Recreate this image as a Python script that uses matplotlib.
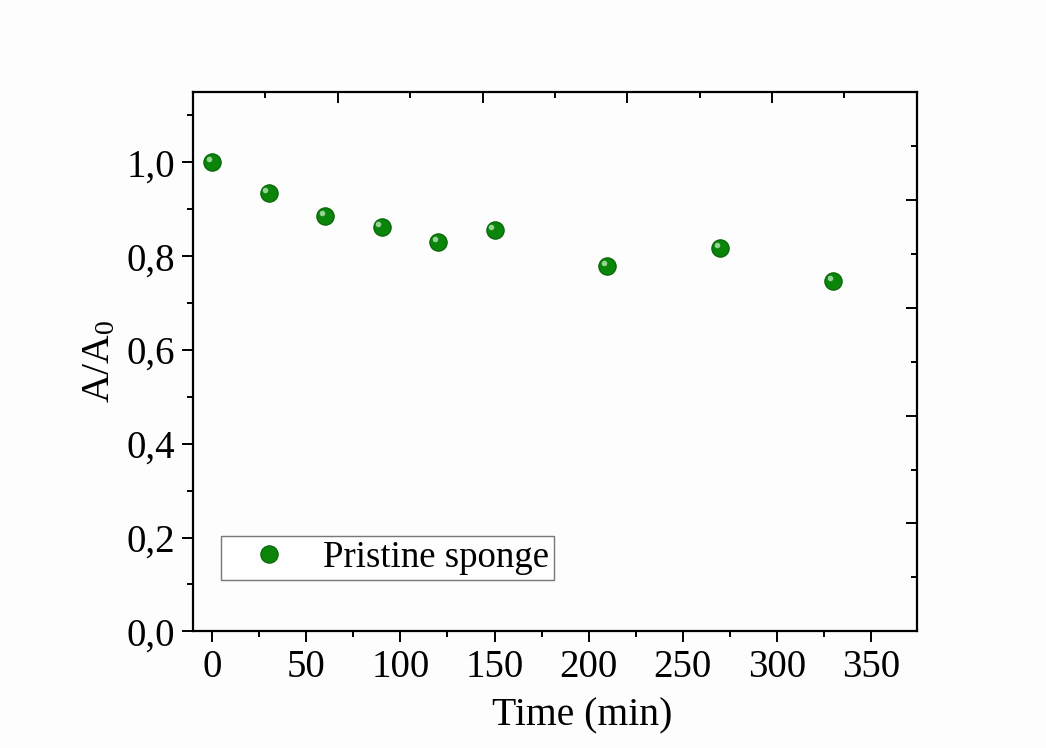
import matplotlib
matplotlib.use('Agg')
import matplotlib.pyplot as plt
import matplotlib.transforms as mtransforms
from matplotlib.ticker import MultipleLocator, FuncFormatter

plt.rcParams['font.family'] = ['Liberation Serif', 'DejaVu Serif']
plt.rcParams['mathtext.fontset'] = 'custom'
plt.rcParams['mathtext.rm'] = 'Liberation Serif'
plt.rcParams['mathtext.it'] = 'Liberation Serif:italic'

time_min = [0, 30, 60, 90, 120, 150, 210, 270, 330]
a_ratio = [1.0, 0.934, 0.885, 0.862, 0.830, 0.855, 0.779, 0.817, 0.747]
series_label = 'Pristine sponge'

fig = plt.figure(figsize=(10.46, 7.48), dpi=100)
fig.patch.set_facecolor('#fdfdfd')
rect = [0.1845, 0.156, 0.692, 0.721]
ax = fig.add_axes(rect)
ax.set_facecolor('#fdfdfd')

ax.plot(time_min, a_ratio, linestyle='none', marker='o', markersize=12.5,
        markerfacecolor='#0a850a', markeredgecolor='#056005', markeredgewidth=0.8,
        label=series_label, zorder=3)
# glossy highlight on the balls
offset = mtransforms.ScaledTranslation(-2.5 / 72, 2.5 / 72, fig.dpi_scale_trans)
ax.plot(time_min, a_ratio, linestyle='none', marker='o', markersize=4,
        markerfacecolor='#b8e8b8', markeredgewidth=0, alpha=0.8,
        transform=ax.transData + offset, zorder=4)

ax.set_xlim(-10.3, 374.5)
ax.set_ylim(0, 1.15)
ax.xaxis.set_major_locator(MultipleLocator(50))
ax.xaxis.set_minor_locator(MultipleLocator(25))
ax.yaxis.set_major_locator(MultipleLocator(0.2))
ax.yaxis.set_minor_locator(MultipleLocator(0.1))
ax.yaxis.set_major_formatter(FuncFormatter(lambda v, p: f'{v:.1f}'.replace('.', ',')))

for s in ax.spines.values():
    s.set_linewidth(1.6)
ax.tick_params(which='both', direction='out', width=1.4, labelsize=28, pad=5)
ax.tick_params(which='major', length=8)
ax.tick_params(which='minor', length=4.5)
ax.tick_params(top=False, right=False)

# top and right axes in Origin style: own scale, inward ticks, no labels
ax2 = fig.add_axes(rect, frameon=False)
ax2.patch.set_visible(False)
ax2.set_xlim(0, 5)
ax2.set_ylim(0, 5)
ax2.xaxis.set_major_locator(MultipleLocator(1))
ax2.xaxis.set_minor_locator(MultipleLocator(0.5))
ax2.yaxis.set_major_locator(MultipleLocator(1))
ax2.yaxis.set_minor_locator(MultipleLocator(0.5))
ax2.tick_params(which='both', direction='in', width=1.4,
                top=True, right=True, bottom=False, left=False,
                labeltop=False, labelright=False, labelbottom=False, labelleft=False)
ax2.tick_params(which='major', length=8)
ax2.tick_params(which='minor', length=4.5)

ax.set_xlabel('Time (min)', fontsize=28.5, labelpad=8)
ax.xaxis.label.set_x(0.538)
ax.set_ylabel(r'A/A$_\mathrm{0}$', fontsize=28.5, labelpad=6)

leg = ax.legend(loc='lower left', bbox_to_anchor=(0.039, 0.096), fontsize=26.5,
                frameon=True, fancybox=False, handletextpad=0.3, borderpad=0.12,
                handlelength=2.35, borderaxespad=0)
leg.get_frame().set_edgecolor('#555555')
leg.get_frame().set_linewidth(1.0)

fig.savefig('out.png', dpi=100, facecolor=fig.get_facecolor())
